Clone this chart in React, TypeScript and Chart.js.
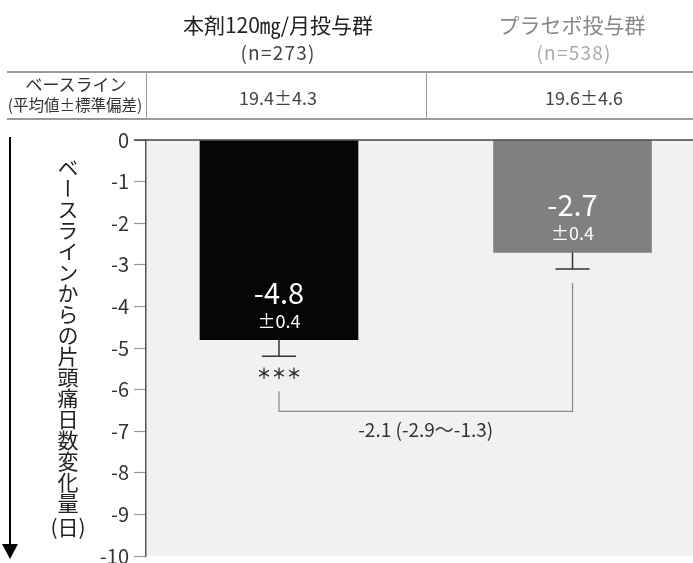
import React, { useEffect, useRef } from "react";
import { Chart, registerables } from "chart.js";

Chart.register(...registerables);

// ---- data ----
const groupNames = ["本剤120㎎/月投与群", "プラセボ投与群"];
const groupN = ["(n=273)", "(n=538)"];
const baselineHeader = ["ベースライン", "(平均値±標準偏差)"];
const baselineValues = ["19.4±4.3", "19.6±4.6"];
const changeValues = [-4.8, -2.7];
const seValues = [0.4, 0.4];
const barColors = ["#050505", "#808080"];
const yMin = -10;
const yMax = 0;
const yStep = 1;
const significance = "＊＊＊";
const diffLabel = "-2.1 (-2.9～-1.3)";
const yAxisTitle = "ベースラインからの片頭痛日数変化量";
const yAxisUnit = "(日)";

const FONT = '"Noto Sans CJK JP", "Noto Sans", sans-serif';

const annotPlugin = {
  id: "annot",
  beforeDraw(chart: any) {
    const { ctx, chartArea } = chart;
    ctx.save();
    ctx.fillStyle = "#f1f1f1";
    ctx.fillRect(chartArea.left, chartArea.top, chartArea.right - chartArea.left, chartArea.bottom - chartArea.top);
    ctx.restore();
  },
  afterDraw(chart: any) {
    const { ctx, chartArea } = chart;
    const y = chart.scales.y;
    const meta = chart.getDatasetMeta(0);
    const line = (x1: number, y1: number, x2: number, y2: number) => {
      ctx.beginPath();
      ctx.moveTo(x1, y1);
      ctx.lineTo(x2, y2);
      ctx.stroke();
    };
    ctx.save();
    // top line across the plot
    ctx.strokeStyle = "#444";
    ctx.lineWidth = 1.5;
    line(chartArea.left - 12, chartArea.top, chartArea.right, chartArea.top);

    const ends: number[] = [];
    meta.data.forEach((bar: any, i: number) => {
      const cx = bar.x;
      const v = changeValues[i];
      const e = seValues[i];
      const y0 = y.getPixelForValue(v);
      const y1 = y.getPixelForValue(v - e);
      ends.push(y1);
      ctx.strokeStyle = "#333";
      ctx.lineWidth = 1.5;
      line(cx, y0, cx, y1);
      line(cx - 17, y1, cx + 17, y1);
      ctx.fillStyle = "#ffffff";
      ctx.textAlign = "center";
      ctx.textBaseline = "middle";
      ctx.font = `29px ${FONT}`;
      ctx.fillText(v.toFixed(1), cx, y0 - 47);
      ctx.font = `18px ${FONT}`;
      ctx.fillText("±" + e.toFixed(1), cx, y0 - 19);
    });

    const b0 = meta.data[0];
    const b1 = meta.data[1];
    // significance
    ctx.fillStyle = "#333";
    ctx.font = `bold 15px ${FONT}`;
    ctx.textAlign = "center";
    ctx.textBaseline = "middle";
    ctx.fillText(significance, b0.x, ends[0] + 17);

    // bracket
    const by = ends[0] + 55;
    ctx.strokeStyle = "#888";
    ctx.lineWidth = 1.2;
    ctx.beginPath();
    ctx.moveTo(b0.x, ends[0] + 35);
    ctx.lineTo(b0.x, by);
    ctx.lineTo(b1.x, by);
    ctx.lineTo(b1.x, ends[1] + 14);
    ctx.stroke();
    ctx.fillStyle = "#333";
    ctx.font = `19px ${FONT}`;
    ctx.fillText(diffLabel, (b0.x + b1.x) / 2, by + 18);

    // arrow on the far left
    ctx.strokeStyle = "#000";
    ctx.lineWidth = 2;
    line(10, chartArea.top - 3, 10, chartArea.bottom - 8);
    ctx.fillStyle = "#000";
    ctx.beginPath();
    ctx.moveTo(2, chartArea.bottom - 12);
    ctx.lineTo(18, chartArea.bottom - 12);
    ctx.lineTo(10, chartArea.bottom + 3);
    ctx.closePath();
    ctx.fill();
    ctx.restore();
  },
};

function Text(props: { x: number; y: number; size: number; color: string; spacing?: number; children: any }) {
  return (
    <div
      style={{
        position: "absolute",
        left: props.x,
        top: props.y,
        transform: "translate(-50%, -50%)",
        fontSize: props.size,
        color: props.color,
        fontFamily: FONT,
        whiteSpace: "nowrap",
        lineHeight: 1,
        letterSpacing: props.spacing || 0,
      }}
    >
      {props.children}
    </div>
  );
}

export default function App() {
  const canvasRef = useRef<HTMLCanvasElement | null>(null);

  useEffect(() => {
    document.body.style.margin = "0";
    const canvas = canvasRef.current;
    if (!canvas) return;
    const chart = new Chart(canvas, {
      type: "bar",
      data: {
        datasets: [
          {
            data: changeValues.map((v, i) => ({ x: i, y: v })),
            backgroundColor: barColors,
            borderWidth: 0,
            barThickness: 158,
          },
        ],
      },
      options: {
        responsive: false,
        animation: false,
        layout: { padding: { top: 140, bottom: 24, left: 0, right: 0 } },
        plugins: { legend: { display: false }, tooltip: { enabled: false } },
        scales: {
          x: {
            type: "linear",
            min: -0.4531,
            max: 1.4105,
            offset: false,
            display: false,
          },
          y: {
            min: yMin,
            max: yMax,
            ticks: {
              stepSize: yStep,
              color: "#333",
              font: { size: 20, family: FONT },
              padding: 5,
            },
            grid: { drawOnChartArea: false, tickLength: 12, color: "#999", tickWidth: 1.2 },
            border: { color: "#555", width: 1.5 },
            afterFit: (s: any) => {
              s.width = 146;
            },
          },
        },
      },
      plugins: [annotPlugin],
    } as any);
    return () => chart.destroy();
  }, []);

  const lineStyle = (l: number, t: number, w: number, h: number) => ({
    position: "absolute" as const,
    left: l,
    top: t,
    width: w,
    height: h,
    background: "#999",
  });

  return (
    <div style={{ position: "relative", width: 693, height: 563, overflow: "hidden", background: "#fff" }}>
      <canvas ref={canvasRef} width={693} height={580} style={{ position: "absolute", left: 0, top: 0, display: "block" }} />
      {/* header */}
      <Text x={278} y={24} size={21} color="#222">{groupNames[0]}</Text>
      <Text x={278} y={51} size={19} color="#444" spacing={1.2}>{groupN[0]}</Text>
      <Text x={572} y={24} size={21} color="#888">{groupNames[1]}</Text>
      <Text x={574} y={51} size={19} color="#aaa" spacing={1.2}>{groupN[1]}</Text>
      {/* table */}
      <div style={lineStyle(7, 71, 686, 1.5)} />
      <div style={lineStyle(7, 118, 686, 1.5)} />
      <div style={lineStyle(145.5, 71, 1.2, 48)} />
      <div style={lineStyle(425.5, 71, 1.2, 48)} />
      <Text x={76} y={83} size={17} color="#333">{baselineHeader[0]}</Text>
      <Text x={75} y={105} size={15.5} color="#333">{baselineHeader[1]}</Text>
      <Text x={278} y={97} size={18} color="#444">{baselineValues[0]}</Text>
      <Text x={584} y={97} size={18} color="#444">{baselineValues[1]}</Text>
      {/* y axis title */}
      <div
        style={{
          position: "absolute",
          left: 57,
          top: 157,
          width: 22,
          writingMode: "vertical-rl",
          fontSize: 21,
          lineHeight: "22px",
          letterSpacing: 0,
          color: "#222",
          fontFamily: FONT,
          whiteSpace: "nowrap",
        }}
      >
        {yAxisTitle}
      </div>
      <Text x={68} y={526} size={21} color="#222">{yAxisUnit}</Text>
    </div>
  );
}
